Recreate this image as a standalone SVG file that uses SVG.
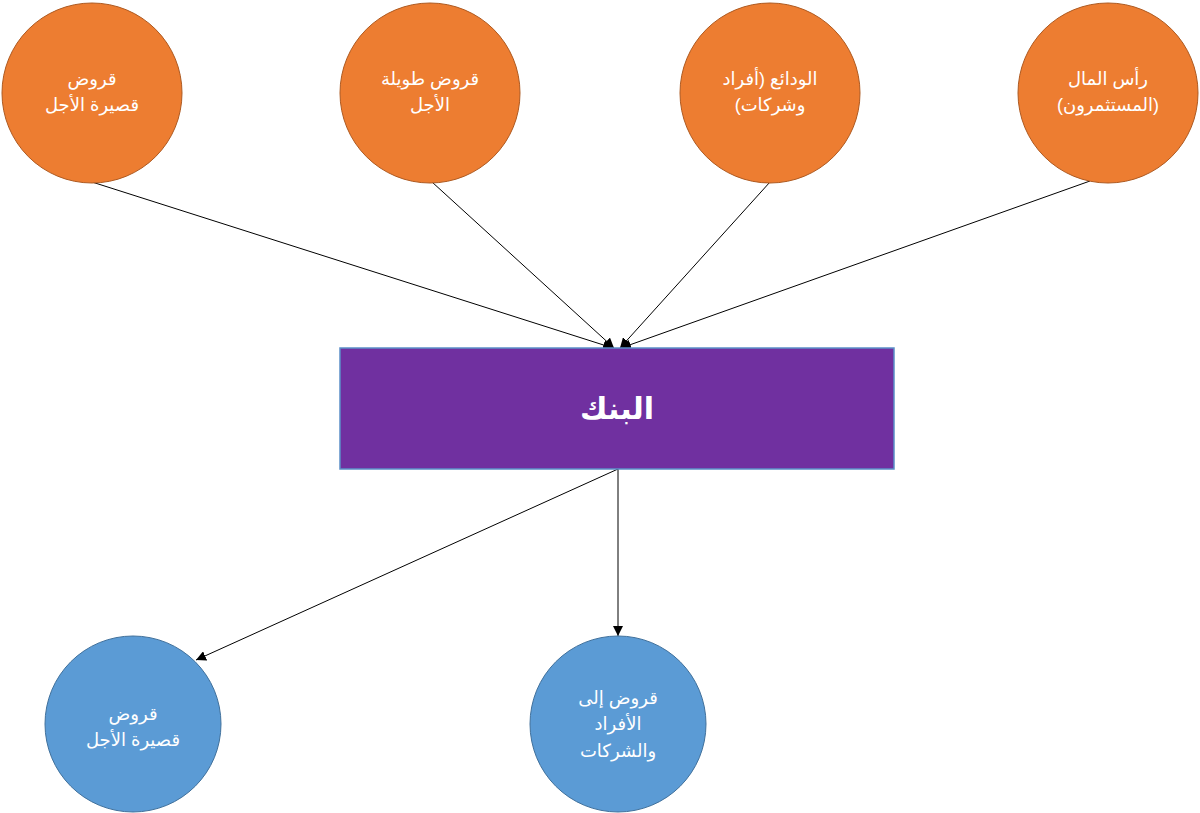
<svg xmlns="http://www.w3.org/2000/svg" width="1200" height="813" viewBox="0 0 1200 813">
<style>
.orange{fill:#ED7D31;stroke:#AE5A21;stroke-width:1}
.blue{fill:#5B9BD5;stroke:#41719C;stroke-width:1}
.bank{fill:#7030A0;stroke:#5B8FC8;stroke-width:1.5}
.t{font-family:"Liberation Sans","DejaVu Sans",sans-serif;font-size:18px;fill:#FFFFFF;text-anchor:middle;direction:rtl}
.tb{font-family:"Liberation Sans","DejaVu Sans",sans-serif;font-size:30px;font-weight:bold;fill:#FFFFFF;text-anchor:middle;direction:rtl}
.c{stroke:#000;stroke-width:1;fill:none;marker-end:url(#ah)}
</style>
<defs>
<marker id="ah" viewBox="0 0 10 10" refX="10" refY="5" markerWidth="10" markerHeight="10" markerUnits="userSpaceOnUse" orient="auto">
<path d="M0,0 L10,5 L0,10 Z" fill="#000"/>
</marker>
</defs>
<g id="connectors">
<line class="c" x1="92" y1="182" x2="613" y2="348"/>
<line class="c" x1="432" y1="182" x2="614" y2="348"/>
<line class="c" x1="770" y1="182" x2="620" y2="348"/>
<line class="c" x1="1090" y1="181" x2="621" y2="348"/>
<line class="c" x1="618" y1="469" x2="196" y2="660"/>
<line class="c" x1="618" y1="469" x2="618" y2="636"/>
</g>
<g id="n1"><circle class="orange" cx="92" cy="93" r="90"/><text class="t" x="92" y="85">قروض</text><text class="t" x="92" y="111">قصيرة الأجل</text></g>
<g id="n2"><circle class="orange" cx="430" cy="93" r="90"/><text class="t" x="430" y="85">قروض طويلة</text><text class="t" x="430" y="111">الأجل</text></g>
<g id="n3"><circle class="orange" cx="770" cy="93" r="90"/><text class="t" x="770" y="85">الودائع (أفراد</text><text class="t" x="770" y="111">وشركات)</text></g>
<g id="n4"><circle class="orange" cx="1108" cy="93" r="90"/><text class="t" x="1108" y="85">رأس المال</text><text class="t" x="1108" y="111">(المستثمرون)</text></g>
<g id="bank"><rect class="bank" x="340" y="348" width="554" height="121"/><text class="tb" x="617" y="419">البنك</text></g>
<g id="n5"><circle class="blue" cx="133" cy="724" r="88"/><text class="t" x="133" y="720">قروض</text><text class="t" x="133" y="746">قصيرة الأجل</text></g>
<g id="n6"><circle class="blue" cx="618" cy="724" r="88"/><text class="t" x="618" y="704">قروض إلى</text><text class="t" x="618" y="730">الأفراد</text><text class="t" x="618" y="757">والشركات</text></g>
</svg>
